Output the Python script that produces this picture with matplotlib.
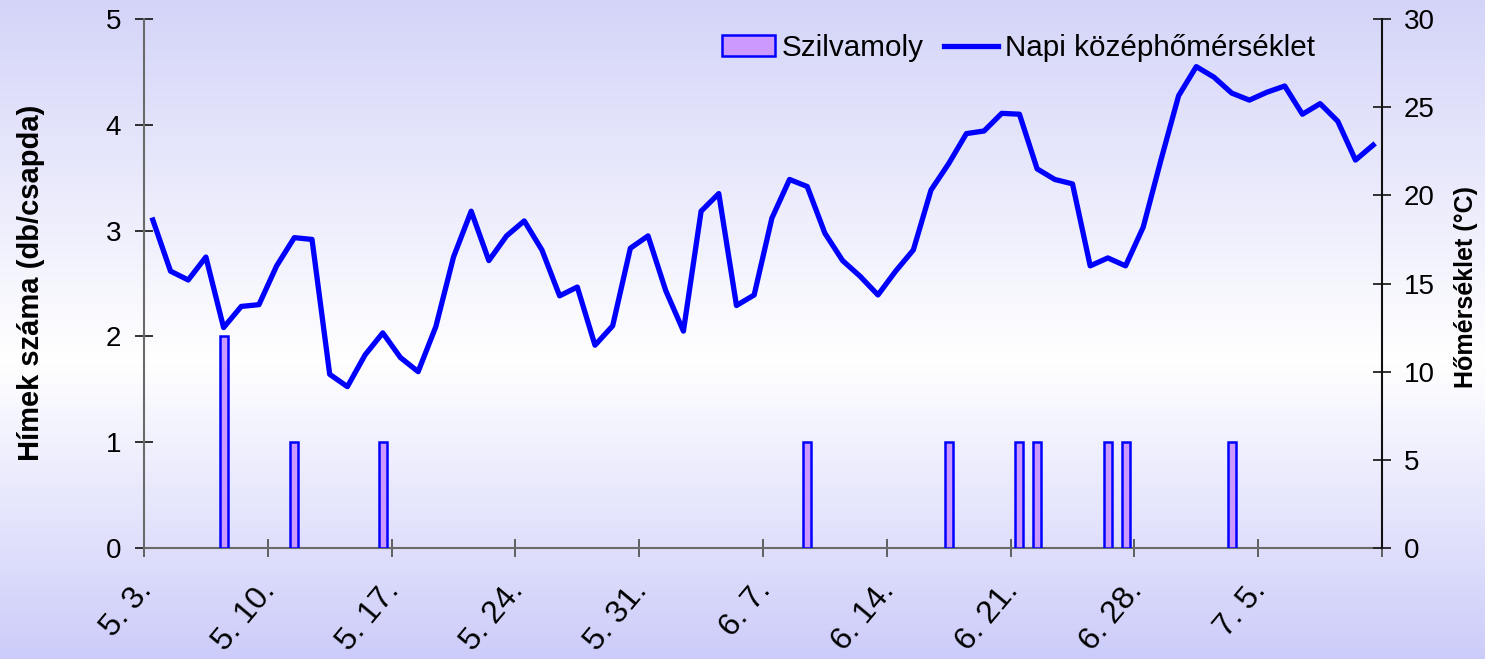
# -*- coding: utf-8 -*-

# %% Imports
import matplotlib.pyplot as plt
import numpy as np

plt.rcParams['font.family'] = ['Liberation Sans', 'DejaVu Sans']

# %% Data
# Daily mean temperature (°C), one value per day from 5. 3. to 7. 11.
temp = [18.6, 15.7, 15.2, 16.5, 12.5, 13.7, 13.8, 16.0, 17.6, 17.5,
        9.85, 9.15, 10.95, 12.2, 10.8, 10.0, 12.55, 16.5, 19.1, 16.3,
        17.7, 18.55, 16.9, 14.3, 14.8, 11.5, 12.6, 17.0, 17.7, 14.6,
        12.3, 19.1, 20.1, 13.75, 14.35, 18.7, 20.9, 20.5, 17.85, 16.3,
        15.4, 14.35, 15.7, 16.9, 20.3, 21.8, 23.5, 23.65, 24.65, 24.6,
        21.5, 20.9, 20.65, 16.0, 16.45, 16.0, 18.2, 22.0, 25.65, 27.3,
        26.7, 25.8, 25.4, 25.85, 26.2, 24.6, 25.2, 24.2, 22.0, 22.85]

# Days (index from 5. 3.) with male catches and the number per trap
catch_day = [4, 8, 13, 37, 45, 49, 50, 54, 55, 61]
catch_count = [2, 1, 1, 1, 1, 1, 1, 1, 1, 1]

tick_labels = ['5. 3.', '5. 10.', '5. 17.', '5. 24.', '5. 31.',
               '6. 7.', '6. 14.', '6. 21.', '6. 28.', '7. 5.']

# %% Figure
W, H = 1485, 659
fig = plt.figure(figsize=(W / 100, H / 100), dpi=100)

# Background gradient: lavender at the edges, white in the middle
yy = np.arange(H, dtype=float)
mid = 360.0
t = np.where(yy < mid, (mid - yy) / mid, (yy - mid) / (H - mid))
top_c = np.array([212, 212, 249]) / 255
bot_c = np.array([204, 204, 250]) / 255
edge = np.where((yy < mid)[:, None], top_c, bot_c)
grad = (1 - t[:, None]) * 1.0 + t[:, None] * edge
bg = fig.add_axes([0, 0, 1, 1], zorder=-10)
bg.imshow(grad[:, None, :], aspect='auto', extent=[0, 1, 0, 1])
bg.set_axis_off()

ax = fig.add_axes([144 / W, 1 - 548 / H, 1238 / W, 529 / H])
ax.patch.set_visible(False)
ax2 = ax.twinx()

n = len(temp)
days = np.arange(n)

bars = ax.bar(catch_day, catch_count, width=0.45, color='#cc99ff',
              edgecolor='#0000ff', linewidth=1.8, label='Szilvamoly',
              zorder=3)
line, = ax2.plot(days, temp, color='#0000ff', lw=3.8,
                 label='Napi középhőmérséklet')

ax.set_xlim(-0.5, n - 0.5)
ax.set_ylim(0, 5)
ax2.set_ylim(0, 30)

# Category axis: labels on the days, tick marks between weeks
ax.set_xticks(np.arange(0, n, 7))
ax.set_xticklabels(tick_labels, rotation=50, ha='right', va='baseline',
                   rotation_mode='anchor', fontsize=23)
ax.set_xticks(np.arange(-0.5, n, 7), minor=True)
ax.tick_params(axis='x', which='major', length=0, pad=31)
ax.tick_params(axis='x', which='minor', direction='inout', length=13,
               width=1.3, color='#555555')

ax.set_yticks(range(0, 6))
ax.tick_params(axis='y', direction='inout', length=13, width=1.3,
               labelsize=20, pad=10, color='#222222')
ax2.set_yticks(range(0, 31, 5))
ax2.tick_params(axis='y', direction='inout', length=13, width=1.3,
                labelsize=20, pad=9, color='#222222')

for side in ['top', 'right']:
    ax.spines[side].set_visible(False)
for side in ['left', 'bottom']:
    ax.spines[side].set_color('#6a6a6a')
    ax.spines[side].set_linewidth(1.5)
for side in ['top', 'left', 'bottom']:
    ax2.spines[side].set_visible(False)
ax2.spines['right'].set_color('#111111')
ax2.spines['right'].set_linewidth(1.5)

ax.set_ylabel('Hímek száma (db/csapda)', fontsize=21, fontweight='bold',
              va='center')
ax.yaxis.set_label_coords((31 - 144) / 1238, (548 - 282.5) / 529)
ax2.set_ylabel('Hőmérséklet (°C)', fontsize=18, fontweight='bold',
               va='center', rotation=90)
ax2.yaxis.set_label_coords((1466 - 144) / 1238, (548 - 287) / 529)

ax2.legend([bars, line], ['Szilvamoly', 'Napi középhőmérséklet'],
           loc='center left', bbox_to_anchor=(707 / W, 1 - 48 / H),
           bbox_transform=fig.transFigure, ncol=2, frameon=False,
           fontsize=21.3, borderpad=0, handlelength=1.8, handleheight=0.68,
           handletextpad=0.24, columnspacing=0.68)

plt.savefig('out.png', dpi=100)
plt.close(fig)
